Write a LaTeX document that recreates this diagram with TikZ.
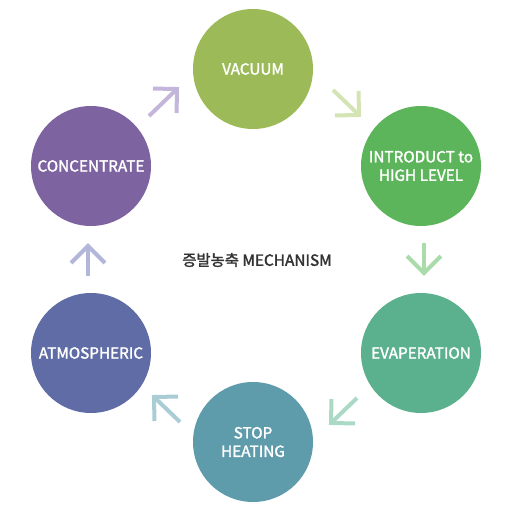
\documentclass[tikz,border=0pt]{standalone}
\usepackage{fontspec}
\setmainfont{Noto Sans CJK KR}
\newfontfamily\medfont[FakeBold=1.8]{Noto Sans CJK KR}
\usetikzlibrary{calc}
\definecolor{cvac}{HTML}{9CBB58}
\definecolor{cint}{HTML}{5DB55B}
\definecolor{cevap}{HTML}{5BB08E}
\definecolor{cstop}{HTML}{5E9BAB}
\definecolor{catm}{HTML}{5F6CA5}
\definecolor{ccon}{HTML}{7D63A0}
\definecolor{aone}{HTML}{C4B5DB}
\definecolor{atwo}{HTML}{D4E4B4}
\definecolor{athree}{HTML}{A9DCAA}
\definecolor{afour}{HTML}{AAD9C5}
\definecolor{afive}{HTML}{A9CCD5}
\definecolor{asix}{HTML}{B2B6D9}
\definecolor{ttl}{HTML}{333333}
\tikzset{
  stage/.style={circle, minimum size=120pt, inner sep=0pt, text=white, font=\medfont\fontsize{15.3}{18.5}\selectfont, align=center},
  flow/.style={line width=4pt, line cap=butt, line join=miter}
}
\newcommand{\flowarrow}[3]{%
  \draw[flow,#1] (#2) -- (#3);
  \draw[flow,#1] ($(#3)!24pt!45:(#2)$) -- (#3) -- ($(#3)!24pt!-45:(#2)$);
}
\begin{document}
\begin{tikzpicture}[x=1pt,y=-1pt]
\useasboundingbox (0,0) rectangle (511,521);
\node[stage, fill=cvac] (vac) at (253,69) {VACUUM};
\node[stage, fill=cint] (int) at (421,166) {INTRODUCT to\\HIGH LEVEL};
\node[stage, fill=cevap] (evap) at (421,353) {EVAPERATION};
\node[stage, fill=cstop] (stop) at (253,442) {STOP\\HEATING};
\node[stage, fill=catm] (atm) at (91,353) {ATMOSPHERIC};
\node[stage, fill=ccon] (con) at (91,166) {CONCENTRATE};
\node[text=ttl, font=\medfont\fontsize{15.4}{18}\selectfont] (title) at (257,260) {증발농축 MECHANISM};
\coordinate (a1t) at (149,116); \coordinate (a1h) at (177,89);
\coordinate (a2t) at (333,90);  \coordinate (a2h) at (359,115);
\coordinate (a3t) at (424,243); \coordinate (a3h) at (424,273);
\coordinate (a4t) at (357,398); \coordinate (a4h) at (331,423);
\coordinate (a5t) at (180,422); \coordinate (a5h) at (154,397);
\coordinate (a6t) at (88,276);  \coordinate (a6h) at (88,246);
\flowarrow{aone}{a1t}{a1h}
\flowarrow{atwo}{a2t}{a2h}
\flowarrow{athree}{a3t}{a3h}
\flowarrow{afour}{a4t}{a4h}
\flowarrow{afive}{a5t}{a5h}
\flowarrow{asix}{a6t}{a6h}
\end{tikzpicture}
\end{document}
